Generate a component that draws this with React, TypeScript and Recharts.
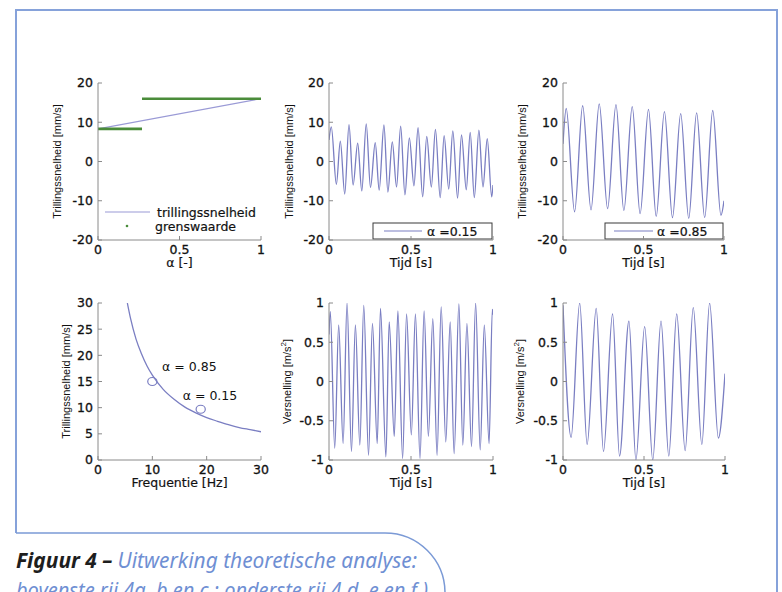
import React from 'react';
import { ComposedChart, Line, XAxis, YAxis, Scatter, ReferenceDot } from 'recharts';

const FONT = "'DejaVu Sans', Verdana, sans-serif";
const YFONT = "'Liberation Sans', Arial, Helvetica, sans-serif";
const FS = 12.5;
const TXT = '#111';
const AX = '#8a8a8a';
const BLUE = '#7a7ec2';
const GREEN = '#4a8c3a';
const ML = 70, MT = 10, MR = 10, MB = 45;
const PH = 157;

// ---------- tick labels ----------
const alphaTicks = [0, 0.5, 1];
const timeTicks = [0, 0.5, 1];
const velTicks = [-20, -10, 0, 10, 20];
const accTicks = [-1, -0.5, 0, 0.5, 1];
const freqTicks = [0, 10, 20, 30];
const vel30Ticks = [0, 5, 10, 15, 20, 25, 30];

// ---------- 4a ----------
const velAlphaX = [0, 1];
const velAlphaY = [8.3, 16];
const limitLowX = [0, 0.27];
const limitLowY = [8.3, 8.3];
const limitHighX = [0.27, 1];
const limitHighY = [16, 16];

// ---------- 4b (alpha = 0.15, velocity) ----------
const v15T = [0, 0.014, 0.045, 0.069, 0.096, 0.122, 0.147, 0.175, 0.2, 0.227, 0.253, 0.282, 0.306, 0.335, 0.359, 0.386, 0.412, 0.437, 0.463, 0.49, 0.518, 0.543, 0.571, 0.596, 0.624, 0.649, 0.678, 0.702, 0.73, 0.755, 0.784, 0.808, 0.837, 0.861, 0.886, 0.914, 0.939, 0.965, 0.992, 1];
const v15V = [5.5, 8.8, -5.8, 5.2, -8.3, 9.4, -6.0, 4.7, -7.5, 9.6, -6.6, 4.8, -7.3, 9.3, -7.8, 5.0, -6.5, 9.0, -8.5, 6.0, -6.2, 8.6, -9.0, 6.4, -6.5, 8.2, -9.2, 6.6, -7.0, 7.8, -9.3, 6.8, -7.2, 7.4, -9.2, 8.0, -6.5, 5.8, -9.0, -6.0];

// ---------- 4c (alpha = 0.85, velocity) ----------
const v85T = [0, 0.02, 0.072, 0.122, 0.174, 0.225, 0.277, 0.329, 0.378, 0.43, 0.479, 0.531, 0.579, 0.63, 0.68, 0.731, 0.781, 0.83, 0.88, 0.93, 0.981, 1];
const v85V = [4.5, 13.5, -12.8, 14.2, -12.3, 14.7, -12.0, 14.5, -12.5, 14.0, -13.3, 13.3, -14.0, 12.7, -14.3, 12.2, -14.5, 12.4, -14.3, 13.0, -13.7, -10.0];

// ---------- 4d (velocity vs frequency) ----------
const curveF = [5.4, 6, 7, 8, 9, 10, 12, 14, 16, 18, 20, 22, 24, 26, 28, 30];
const curveV = [30, 27, 23.1, 20.3, 18, 16.2, 13.5, 11.6, 10.1, 9.0, 8.1, 7.4, 6.75, 6.2, 5.8, 5.4];
const pointF = [10, 18.9];
const pointV = [15.0, 9.7];
const annoX = [11.8, 15.6];
const annoY = [17.8, 12.4];
const annoText = ['α = 0.85', 'α = 0.15'];

// ---------- 4e (alpha = 0.15, acceleration) ----------
const a15T = [0, 0.008, 0.035, 0.059, 0.086, 0.11, 0.137, 0.161, 0.188, 0.212, 0.241, 0.265, 0.294, 0.314, 0.347, 0.367, 0.398, 0.42, 0.449, 0.473, 0.502, 0.527, 0.555, 0.58, 0.606, 0.633, 0.659, 0.684, 0.712, 0.739, 0.763, 0.792, 0.816, 0.841, 0.869, 0.894, 0.922, 0.947, 0.976, 0.996, 1];
const a15V = [0.6, 0.89, -0.85, 0.72, -0.79, 1.0, -0.89, 0.72, -0.81, 0.97, -0.94, 0.74, -0.79, 0.93, -0.96, 0.76, -0.7, 0.9, -0.98, 0.86, -0.68, 0.86, -0.98, 0.9, -0.7, 0.8, -0.94, 0.95, -0.77, 0.76, -0.92, 0.99, -0.81, 0.74, -0.83, 1.0, -0.87, 0.72, -0.79, 0.92, 0.85];

// ---------- 4f (alpha = 0.85, acceleration) ----------
const a85T = [0, 0.05, 0.103, 0.149, 0.205, 0.25, 0.306, 0.349, 0.407, 0.45, 0.504, 0.554, 0.605, 0.653, 0.702, 0.754, 0.804, 0.857, 0.905, 0.959, 1];
const a85V = [0.97, -0.71, 1.0, -0.8, 0.93, -0.89, 0.86, -0.95, 0.77, -1.0, 0.7, -1.0, 0.77, -0.95, 0.86, -0.88, 0.94, -0.8, 1.0, -0.72, 0.1];

const zip = (xs: number[], ys: number[]) => xs.map((x, i) => ({ x, y: ys[i] }));

const tickStyle = { fontSize: FS, fill: TXT, fontFamily: FONT, stroke: TXT, strokeWidth: 0.3 };

function XTitle(props: any) {
  const { viewBox, txt } = props;
  if (!viewBox) return null;
  const cx = viewBox.x + viewBox.width / 2;
  const cy = viewBox.y + 27;
  return (
    <text x={cx} y={cy} textAnchor="middle" fontSize={FS} fill={TXT} stroke={TXT} strokeWidth={0.2} fontFamily={FONT}>{txt}</text>
  );
}

function YTitle(props: any) {
  const { viewBox, txt, off, sup } = props;
  if (!viewBox) return null;
  const cx = viewBox.x + viewBox.width + off;
  const cy = viewBox.y + viewBox.height / 2;
  return (
    <text x={cx} y={cy} transform={`rotate(-90 ${cx} ${cy})`} textAnchor="middle" dominantBaseline="central" fontSize={11} fill={TXT} fontFamily={YFONT}>
      {txt}
      {sup ? <tspan fontSize={8} dy={-4}>{sup}</tspan> : null}
      {sup ? <tspan dy={4}>]</tspan> : null}
    </text>
  );
}

type PanelProps = {
  px: number; py: number; pw: number;
  xDomain: [number, number]; xTicks: number[];
  yDomain: [number, number]; yTicks: number[];
  xTitle: string; yTitle: string; yOff: number; ySup?: string;
  children?: React.ReactNode;
};

function Panel({ px, py, pw, xDomain, xTicks, yDomain, yTicks, xTitle, yTitle, yOff, ySup, children }: PanelProps) {
  const W = ML + pw + MR;
  const H = MT + PH + MB;
  return (
    <div style={{ position: 'absolute', left: px - ML, top: py - MT, width: W, height: H }}>
      <ComposedChart width={W} height={H} margin={{ top: MT, right: MR, bottom: 0, left: 0 }}>
        <XAxis dataKey="x" type="number" domain={xDomain} ticks={xTicks} allowDataOverflow interval={0}
          orientation="bottom" height={MB} tickSize={-4} tickMargin={9} stroke={AX} tick={tickStyle}
          label={<XTitle txt={xTitle} />} />
        <XAxis xAxisId="top" dataKey="x" type="number" domain={xDomain} ticks={xTicks} allowDataOverflow interval={0}
          orientation="top" height={0} tickSize={-4} stroke={AX} tickFormatter={() => ''} />
        <YAxis type="number" domain={yDomain} ticks={yTicks} allowDataOverflow interval={0}
          width={ML} tickSize={-4} tickMargin={9} stroke={AX} tick={tickStyle}
          label={<YTitle txt={yTitle} off={yOff} sup={ySup} />} />
        <YAxis yAxisId="right" orientation="right" type="number" domain={yDomain} ticks={yTicks} allowDataOverflow interval={0}
          width={0} tickSize={-4} stroke={AX} tickFormatter={() => ''} />
        {children}
      </ComposedChart>
    </div>
  );
}

function BoxLegend({ pw, label, boxX, lineX1, lineX2, textX }: any) {
  return (
    <g transform={`translate(${ML},${MT})`}>
      <rect x={boxX} y={140} width={pw - 1 - boxX} height={16} fill="#fff" stroke="#3a3a3a" strokeWidth={1} />
      <line x1={lineX1} x2={lineX2} y1={148} y2={148} stroke={BLUE} strokeWidth={1.2} />
      <text x={textX} y={148.5} dominantBaseline="central" fontSize={FS} fill={TXT} stroke={TXT} strokeWidth={0.2} fontFamily={FONT}>{label}</text>
    </g>
  );
}

const lineProps = { dot: false, activeDot: false, isAnimationActive: false, stroke: BLUE, strokeWidth: 1.3, type: 'monotone' as const };

export default function App() {
  return (
    <div style={{ position: 'absolute', left: 0, top: 0, width: 782, height: 592, background: '#fff', overflow: 'hidden', fontFamily: FONT }}>
      <svg width={782} height={592} style={{ position: 'absolute', left: 0, top: 0 }}>
        <path d="M16 533 L16 10 L777 10 L777 592" stroke="#86a2da" strokeWidth={2} fill="none" />
        <path d="M16 533 L385 533 A60 60 0 0 1 445 593" stroke="#7b9ad6" strokeWidth={1.5} fill="none" />
        <text x={16} y={568} fontSize={21} fontStyle="italic" fontFamily="'Noto Sans', 'Open Sans', sans-serif" textLength={401} lengthAdjust="spacingAndGlyphs">
          <tspan fontWeight="bold" fill="#1e1e1e">Figuur 4 –</tspan>
          <tspan fill="#6f8fd3"> Uitwerking theoretische analyse:</tspan>
        </text>
        <text x={16} y={598} fontSize={21} fontStyle="italic" fill="#6f8fd3" fontFamily="'Noto Sans', 'Open Sans', sans-serif" textLength={412} lengthAdjust="spacingAndGlyphs">
          bovenste rij 4a, b en c ; onderste rij 4 d, e en f )
        </text>
      </svg>

      {/* 4a */}
      <Panel px={98} py={83} pw={163} xDomain={[0, 1]} xTicks={alphaTicks} yDomain={[-20, 20]} yTicks={velTicks}
        xTitle="α [-]" yTitle="Trillingssnelheid [mm/s]" yOff={-41}>
        <Line data={zip(velAlphaX, velAlphaY)} dataKey="y" {...lineProps} type="linear" stroke="#9a9ad6" strokeWidth={1.1} />
        <Line data={zip(limitLowX, limitLowY)} dataKey="y" {...lineProps} type="linear" stroke={GREEN} strokeWidth={2.6} />
        <Line data={zip(limitHighX, limitHighY)} dataKey="y" {...lineProps} type="linear" stroke={GREEN} strokeWidth={2.6} />
        <g transform={`translate(${ML},${MT})`}>
          <line x1={7} x2={52} y1={129} y2={129} stroke="#9a9ad6" strokeWidth={1.1} />
          <text x={59} y={129} dominantBaseline="central" fontSize={FS} fill={TXT} stroke={TXT} strokeWidth={0.2} fontFamily={FONT}>trillingssnelheid</text>
          <circle cx={29} cy={143} r={1.3} fill={GREEN} />
          <text x={57} y={143} dominantBaseline="central" fontSize={FS} fill={TXT} stroke={TXT} strokeWidth={0.2} fontFamily={FONT}>grenswaarde</text>
        </g>
      </Panel>

      {/* 4b */}
      <Panel px={329} py={83} pw={164} xDomain={[0, 1]} xTicks={timeTicks} yDomain={[-20, 20]} yTicks={velTicks}
        xTitle="Tijd [s]" yTitle="Trillingssnelheid [mm/s]" yOff={-40}>
        <Line data={zip(v15T, v15V)} dataKey="y" {...lineProps} />
        <BoxLegend pw={164} label="α =0.15" boxX={44} lineX1={55} lineX2={93} textX={98} />
      </Panel>

      {/* 4c */}
      <Panel px={563} py={83} pw={161} xDomain={[0, 1]} xTicks={timeTicks} yDomain={[-20, 20]} yTicks={velTicks}
        xTitle="Tijd [s]" yTitle="Trillingssnelheid [mm/s]" yOff={-41}>
        <Line data={zip(v85T, v85V)} dataKey="y" {...lineProps} />
        <BoxLegend pw={161} label="α =0.85" boxX={42} lineX1={51} lineX2={90} textX={94} />
      </Panel>

      {/* 4d */}
      <Panel px={98} py={303} pw={163} xDomain={[0, 30]} xTicks={freqTicks} yDomain={[0, 30]} yTicks={vel30Ticks}
        xTitle="Frequentie [Hz]" yTitle="Trillingssnelheid [mm/s]" yOff={-32}>
        <Line data={zip(curveF, curveV)} dataKey="y" {...lineProps} />
        <Scatter data={zip(pointF, pointV)} dataKey="y" isAnimationActive={false}
          shape={(p: any) => <ellipse cx={p.cx} cy={p.cy} rx={4.6} ry={4} fill="none" stroke={BLUE} strokeWidth={1.2} />} />
        {annoText.map((t, i) => (
          <ReferenceDot key={t} x={annoX[i]} y={annoY[i]} r={0} stroke="none" fill="none"
            label={{ value: t, position: 'right', offset: 0, fontSize: FS, fill: TXT, fontFamily: FONT }} />
        ))}
      </Panel>

      {/* 4e */}
      <Panel px={329} py={303} pw={164} xDomain={[0, 1]} xTicks={timeTicks} yDomain={[-1, 1]} yTicks={accTicks}
        xTitle="Tijd [s]" yTitle="Versnelling [m/s" ySup="2" yOff={-42}>
        <Line data={zip(a15T, a15V)} dataKey="y" {...lineProps} />
      </Panel>

      {/* 4f */}
      <Panel px={563} py={303} pw={162} xDomain={[0, 1]} xTicks={timeTicks} yDomain={[-1, 1]} yTicks={accTicks}
        xTitle="Tijd [s]" yTitle="Versnelling [m/s" ySup="2" yOff={-43}>
        <Line data={zip(a85T, a85V)} dataKey="y" {...lineProps} />
      </Panel>
    </div>
  );
}
